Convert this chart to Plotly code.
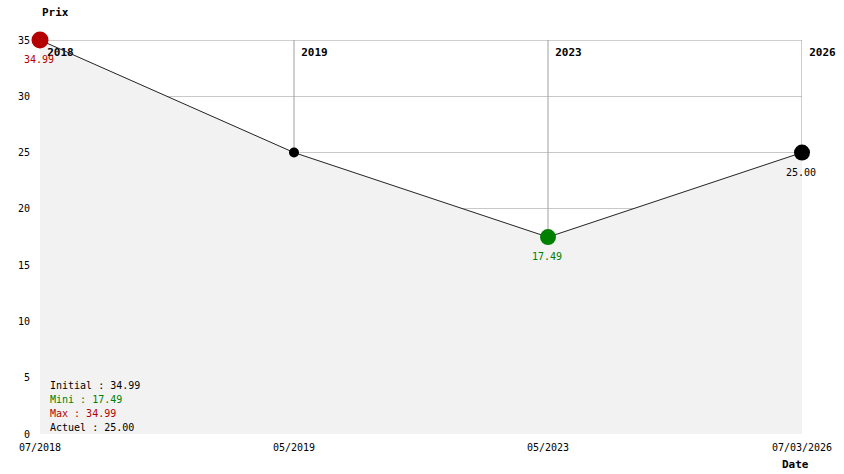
import plotly.graph_objects as go

dates = ["07/2018", "05/2019", "05/2023", "07/03/2026"]
years = ["2018", "2019", "2023", "2026"]
prices = [34.99, 25.00, 17.49, 25.00]
marker_colors = ["#b40000", "#000000", "#008000", "#000000"]
marker_sizes = [17, 10, 16, 16]
point_labels = ["34.99", "", "17.49", "25.00"]
label_colors = ["#b40000", "#000000", "#008000", "#000000"]

summary_labels = ["Initial : 34.99", "Mini : 17.49", "Max : 34.99", "Actuel : 25.00"]
summary_colors = ["#000000", "#008000", "#b40000", "#000000"]

y_max = 35
xs = list(range(len(dates)))
MONO = "DejaVu Sans Mono"

fig = go.Figure()

# area under the curve (opaque, hides the grid like the original)
fig.add_trace(go.Scatter(
    x=xs, y=prices, mode="lines", fill="tozeroy",
    fillcolor="#f2f2f2", line=dict(width=0), hoverinfo="skip",
))

# top border line + vertical markers from top down to each point
vx, vy = [xs[0], xs[-1], None], [y_max, y_max, None]
for i, p in zip(xs, prices):
    vx += [i, i, None]
    vy += [y_max, p, None]
fig.add_trace(go.Scatter(
    x=vx, y=vy, mode="lines", line=dict(color="#a0a0a0", width=1),
    hoverinfo="skip", cliponaxis=False,
))

# year labels as text trace so the markers sit on top of them;
# an invisible marker pushes the text a bit away from the corner
fig.add_trace(go.Scatter(
    x=xs, y=[y_max] * len(xs), mode="markers+text",
    text=["<b>" + y + "</b>" for y in years],
    textposition="bottom right", cliponaxis=False, hoverinfo="skip",
    marker=dict(size=10, opacity=0),
    textfont=dict(family=MONO, size=11, color="#000000"),
))

fig.add_trace(go.Scatter(
    x=xs, y=prices, mode="lines+markers", cliponaxis=False,
    line=dict(color="#222222", width=1),
    marker=dict(color=marker_colors, size=marker_sizes, opacity=1, line=dict(width=0)),
))

for i, (p, txt, col) in enumerate(zip(prices, point_labels, label_colors)):
    if txt:
        fig.add_annotation(
            x=i, y=p, text=txt, showarrow=False, yanchor="top", yshift=-12,
            xshift=-1, font=dict(family=MONO, size=10, color=col),
        )

for k, (txt, col) in enumerate(zip(summary_labels, summary_colors)):
    fig.add_annotation(
        xref="paper", yref="paper", x=0, y=0, text=txt, showarrow=False,
        xanchor="left", yanchor="middle", xshift=8, yshift=49 - 14 * k,
        font=dict(family=MONO, size=10, color=col),
    )

fig.add_annotation(
    xref="paper", yref="paper", x=0, y=1, text="<b>Prix</b>", showarrow=False,
    xanchor="left", yanchor="bottom", yshift=19,
    font=dict(family=MONO, size=11, color="#000000"),
)
fig.add_annotation(
    xref="paper", yref="paper", x=1, y=0, text="<b>Date</b>", showarrow=False,
    xanchor="left", yanchor="top", xshift=-22, yshift=-22,
    font=dict(family=MONO, size=11, color="#000000"),
)

fig.update_layout(
    width=844, height=474,
    margin=dict(l=40, r=39, t=40, b=40),
    paper_bgcolor="white", plot_bgcolor="white",
    showlegend=False,
    font=dict(family=MONO, size=10, color="#000000"),
    xaxis=dict(
        range=[0, len(dates) - 1], tickvals=xs, ticktext=dates,
        showgrid=False, zeroline=False, showline=False, ticks="",
        ticklabelstandoff=6,
        tickfont=dict(family=MONO, size=10),
    ),
    yaxis=dict(
        range=[0, y_max], dtick=5, showgrid=True, gridcolor="#c8c8c8",
        zeroline=False, showline=False, ticks="",
        ticklabelstandoff=9,
        tickfont=dict(family=MONO, size=10),
    ),
)

# drop the default 8px body margin so the figure sits at the page corner
fig.write_html(
    "out.html",
    config={"displayModeBar": False},
    post_script="document.body.style.margin='0';",
)
